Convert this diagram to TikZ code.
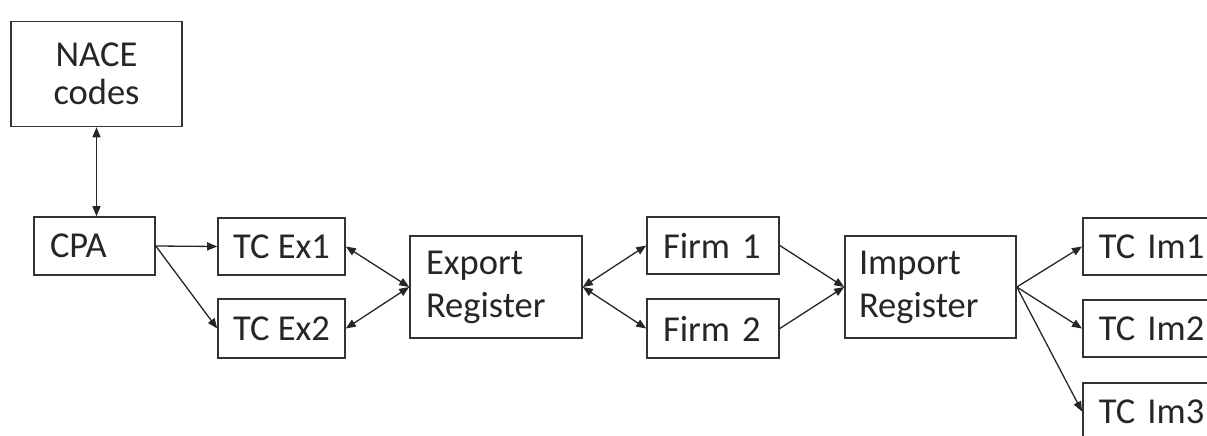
\documentclass[tikz,border=0pt]{standalone}
\usepackage{fontspec}
\setmainfont{Carlito}
\usetikzlibrary{arrows.meta}
\tikzset{
  box/.style={draw=black!80, line width=1.6pt, rectangle, inner ysep=0pt,
    font=\fontsize{36.5}{43}\selectfont, text=black!85},
  lbox/.style={box, align=left, inner xsep=16pt},
  conn/.style={draw=black!85, line width=1.3pt, -{Triangle[length=10pt,width=8pt]}},
  dconn/.style={draw=black!85, line width=1.3pt, {Triangle[length=10pt,width=8pt]}-{Triangle[length=10pt,width=8pt]}}
}
\begin{document}
\begin{tikzpicture}[x=1pt,y=-1pt]
\clip (0,0) rectangle (1207,436);
\node[box, minimum width=171pt, minimum height=105pt, align=center, font=\fontsize{36.5}{38}\selectfont] (nace) at (96.5,74) {NACE\\codes};
\node[lbox, minimum height=58pt, text width=89pt] (cpa) at (94.5,246) {CPA};
\node[box, minimum width=127pt, minimum height=57pt, align=center] (ex1) at (281.5,246.5) {TC Ex1};
\node[box, minimum width=127pt, minimum height=59pt, align=center] (ex2) at (281.5,328.5) {TC Ex2};
\node[lbox, minimum height=102pt, text width=140pt] (exp) at (496,287) {Export\\Register};
\node[lbox, minimum height=57pt, text width=100pt] (f1) at (713,245.5) {Firm 1};
\node[lbox, minimum height=59pt, text width=100pt] (f2) at (713,328.5) {Firm 2};
\node[lbox, minimum height=102pt, inner xsep=14pt, text width=143pt] (imp) at (930.5,287) {Import\\Register};
\node[lbox, anchor=west, minimum height=57pt, text width=130pt] (im1) at (1082,246.5) {TC Im1};
\node[lbox, anchor=west, minimum height=57pt, text width=130pt] (im2) at (1082,328.5) {TC Im2};
\node[lbox, anchor=west, minimum height=57pt, text width=130pt] (im3) at (1082,411.5) {TC Im3};
\draw[dconn] (nace.south) -- (nace.south |- cpa.north);
\draw[conn] (cpa.east) -- (ex1.west);
\draw[conn] (cpa.east) -- (ex2.west);
\draw[dconn] (ex1.east) -- (exp.west);
\draw[dconn] (ex2.east) -- (exp.west);
\draw[dconn] (exp.east) -- (f1.west);
\draw[dconn] (exp.east) -- (f2.west);
\draw[conn] (f1.east) -- (imp.west);
\draw[conn] (f2.east) -- (imp.west);
\draw[conn] (imp.east) -- (im1.west);
\draw[conn] (imp.east) -- (im2.west);
\draw[conn] (imp.east) -- (im3.west);
\end{tikzpicture}
\end{document}
